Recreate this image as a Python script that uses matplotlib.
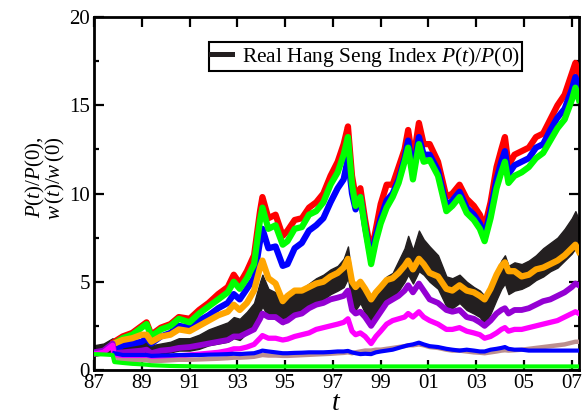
import numpy as np
import matplotlib
matplotlib.use("Agg")
import matplotlib.pyplot as plt

plt.rcParams['font.family'] = ['Liberation Serif', 'DejaVu Serif']
plt.rcParams['mathtext.fontset'] = 'custom'
plt.rcParams['mathtext.rm'] = 'Liberation Serif'
plt.rcParams['mathtext.it'] = 'Liberation Serif:italic'

nan = np.nan

# time in years (87 = 1987, 107 = 2007)
t = [87.0, 87.4, 87.78, 87.85, 88.2, 88.6, 89.0, 89.2, 89.4, 89.8,
     90.2, 90.55, 91.0, 91.4, 91.8, 92.2, 92.6, 92.85, 93.1, 93.4,
     93.7, 93.95, 94.05, 94.3, 94.6, 94.9, 95.1, 95.4, 95.7, 96.0,
     96.3, 96.6, 96.9, 97.2, 97.45, 97.63, 97.8, 97.95, 98.15, 98.35,
     98.6, 98.8, 99.0, 99.25, 99.5, 99.75, 100.0, 100.15, 100.35, 100.6,
     100.8, 101.05, 101.4, 101.75, 102.0, 102.3, 102.6, 102.9, 103.15, 103.35,
     103.6, 103.85, 104.05, 104.2, 104.35, 104.6, 104.9, 105.2, 105.5, 105.8,
     106.1, 106.4, 106.7, 107.0, 107.15, 107.3]

w_red = [nan, nan, nan, 1.6, 1.9, 2.1, 2.5, 2.7, 2.0, 2.4,
         2.6, 3.0, 2.9, 3.4, 3.8, 4.3, 4.7, 5.4, 4.9, 5.6,
         6.5, 9.0, 9.8, 8.6, 8.8, 7.6, 7.9, 8.5, 8.6, 9.2,
         9.5, 10.0, 11.0, 11.8, 12.8, 13.8, 11.0, 9.8, 10.3, 8.5,
         6.6, 8.0, 9.4, 10.5, 10.5, 11.5, 12.5, 13.6, 11.8, 14.0,
         12.8, 12.8, 11.8, 9.8, 10.0, 10.5, 9.7, 9.3, 8.8, 8.1,
         9.5, 11.5, 12.5, 13.2, 11.6, 12.2, 12.4, 12.6, 13.2, 13.4,
         14.2, 15.0, 15.6, 16.8, 17.4, 16.7]

w_blue = [nan, nan, nan, 1.1, 1.4, 1.5, 1.6, 1.8, 1.5, 1.9,
          2.1, 2.5, 2.4, 2.8, 3.1, 3.5, 3.8, 4.3, 4.0, 4.6,
          5.2, 7.3, 8.0, 6.9, 7.0, 5.9, 6.0, 6.9, 7.2, 7.9,
          8.2, 8.6, 9.5, 10.3, 10.8, 12.0, 10.0, 9.1, 9.8, 8.1,
          6.3, 7.6, 8.6, 9.6, 10.0, 10.8, 12.0, 13.0, 11.2, 13.2,
          12.2, 12.2, 11.3, 9.3, 9.6, 10.1, 9.2, 8.8, 8.3, 7.6,
          9.0, 10.8, 11.8, 12.4, 11.1, 11.6, 11.8, 12.0, 12.6, 12.8,
          13.6, 14.3, 14.8, 15.9, 16.6, 15.9]

w_green = [nan, nan, nan, 1.5, 1.8, 2.0, 2.4, 2.6, 1.9, 2.3,
           2.5, 2.9, 2.7, 3.2, 3.6, 4.0, 4.4, 5.0, 4.6, 5.2,
           6.0, 8.5, 9.2, 8.0, 8.2, 7.1, 7.3, 8.0, 8.1, 8.8,
           9.0, 9.5, 10.5, 11.2, 12.2, 13.2, 10.5, 9.3, 9.8, 8.0,
           6.0, 7.3, 8.3, 9.2, 9.8, 10.6, 11.8, 12.6, 10.8, 12.8,
           11.8, 11.9, 11.0, 9.0, 9.3, 9.8, 8.9, 8.5, 8.0, 7.3,
           8.6, 10.3, 11.2, 11.8, 10.6, 11.0, 11.2, 11.5, 12.0, 12.3,
           13.0, 13.7, 14.2, 15.3, 16.0, 15.3]

w_orange = [nan, nan, nan, 1.5, 1.7, 1.8, 2.0, 2.0, 1.6, 1.9,
            2.0, 2.3, 2.2, 2.5, 2.8, 3.1, 3.3, 3.7, 3.4, 3.8,
            4.5, 5.8, 6.2, 5.2, 4.9, 3.9, 4.2, 4.5, 4.5, 4.7,
            4.9, 5.0, 5.3, 5.5, 5.8, 6.3, 5.0, 4.7, 5.0, 4.6,
            4.0, 4.4, 4.7, 5.1, 5.2, 5.5, 5.9, 6.2, 5.7, 6.3,
            6.0, 5.5, 5.3, 4.6, 4.5, 4.8, 4.5, 4.4, 4.2, 4.0,
            4.6, 5.4, 5.9, 6.1, 5.6, 5.6, 5.3, 5.4, 5.7, 5.8,
            6.0, 6.2, 6.5, 6.9, 7.1, 6.7]

# real Hang Seng index, daily low / high envelope
hsi_lo = [0.8, 0.9, 1.1, 0.7, 0.9, 0.9, 1.0, 1.0, 0.7, 0.9,
          1.0, 1.1, 1.1, 1.2, 1.4, 1.5, 1.6, 1.8, 1.7, 2.1,
          2.4, 3.3, 3.6, 3.0, 2.9, 2.6, 2.9, 3.2, 3.3, 3.6,
          3.9, 4.0, 4.3, 4.5, 4.7, 5.2, 3.8, 3.4, 3.8, 3.2,
          2.5, 3.0, 3.4, 3.8, 4.0, 4.5, 5.0, 5.4, 4.9, 5.6,
          5.4, 5.0, 4.6, 3.6, 3.5, 3.8, 3.4, 3.2, 3.0, 2.6,
          3.2, 4.0, 4.6, 4.9, 4.3, 4.5, 4.6, 4.8, 5.1, 5.3,
          5.6, 5.8, 6.2, 6.6, 6.9, 6.5]
hsi_hi = [1.4, 1.5, 1.8, 1.3, 1.4, 1.5, 1.6, 1.7, 1.4, 1.5,
          1.6, 1.8, 1.8, 2.0, 2.3, 2.5, 2.7, 3.0, 2.9, 3.3,
          3.8, 5.0, 5.4, 4.6, 4.4, 3.7, 4.0, 4.5, 4.6, 4.9,
          5.2, 5.4, 5.7, 5.9, 6.3, 7.0, 5.2, 4.8, 5.0, 4.4,
          3.8, 4.3, 4.8, 5.3, 5.5, 6.2, 6.9, 7.6, 6.8, 7.9,
          7.4, 7.0, 6.5, 5.3, 5.2, 5.4, 5.0, 4.7, 4.5, 4.2,
          4.8, 5.6, 6.2, 6.5, 5.9, 6.1, 6.0, 6.2, 6.5, 6.9,
          7.2, 7.5, 8.0, 8.6, 9.0, 8.5]

w_purple = [1.0, 1.1, 1.5, 0.95, 1.0, 1.05, 1.1, 1.15, 0.95, 1.1,
            1.15, 1.25, 1.3, 1.4, 1.5, 1.6, 1.7, 1.9, 1.9, 2.1,
            2.3, 2.9, 3.2, 3.0, 3.0, 2.7, 2.8, 3.1, 3.2, 3.5,
            3.7, 3.8, 4.0, 4.1, 4.2, 4.5, 3.4, 3.2, 3.3, 3.0,
            2.5, 2.9, 3.3, 3.8, 4.0, 4.2, 4.5, 4.8, 4.4, 4.9,
            4.5, 4.0, 3.8, 3.4, 3.3, 3.4, 3.0, 2.9, 2.7, 2.5,
            2.8, 3.2, 3.4, 3.5, 3.2, 3.4, 3.4, 3.5, 3.7, 3.9,
            4.0, 4.2, 4.4, 4.7, 4.9, 4.8]

w_magenta = [0.9, 1.0, 1.4, 0.7, 0.7, 0.72, 0.75, 0.78, 0.6, 0.7,
             0.75, 0.8, 0.85, 0.9, 0.95, 1.0, 1.1, 1.2, 1.2, 1.3,
             1.45, 1.8, 1.95, 1.8, 1.8, 1.7, 1.75, 1.9, 2.0, 2.1,
             2.3, 2.4, 2.5, 2.6, 2.7, 2.9, 2.2, 2.0, 2.1, 1.9,
             1.5, 1.9, 2.2, 2.6, 2.8, 2.9, 3.0, 3.2, 3.0, 3.3,
             3.0, 2.8, 2.6, 2.3, 2.3, 2.4, 2.2, 2.1, 2.0, 1.8,
             1.9, 2.1, 2.3, 2.4, 2.2, 2.3, 2.3, 2.4, 2.5, 2.6,
             2.7, 2.8, 3.0, 3.2, 3.3, 3.2]

w_brown = [nan, nan, nan, 0.6, 0.55, 0.55, 0.55, 0.56, 0.5, 0.52,
           0.55, 0.58, 0.58, 0.6, 0.62, 0.64, 0.67, 0.7, 0.7, 0.72,
           0.75, 0.82, 0.85, 0.82, 0.82, 0.8, 0.8, 0.82, 0.84, 0.86,
           0.88, 0.9, 0.92, 0.95, 0.97, 1.0, 0.95, 1.0, 1.05, 1.1,
           1.1, 1.15, 1.15, 1.2, 1.25, 1.3, 1.35, 1.4, 1.4, 1.45,
           1.4, 1.3, 1.25, 1.15, 1.1, 1.1, 1.05, 1.0, 0.98, 0.95,
           1.0, 1.05, 1.1, 1.12, 1.1, 1.12, 1.15, 1.2, 1.25, 1.3,
           1.35, 1.4, 1.45, 1.55, 1.6, 1.6]

w_blue_low = [nan, nan, nan, 0.95, 0.85, 0.85, 0.85, 0.85, 0.8, 0.82,
              0.83, 0.85, 0.85, 0.85, 0.87, 0.88, 0.9, 0.92, 0.9, 0.93,
              0.95, 1.05, 1.1, 1.05, 1.0, 0.95, 0.95, 0.97, 0.98, 1.0,
              1.0, 1.0, 1.02, 1.05, 1.05, 1.08, 1.0, 0.95, 0.9, 0.92,
              0.9, 1.0, 1.05, 1.1, 1.15, 1.25, 1.35, 1.4, 1.45, 1.55,
              1.45, 1.35, 1.3, 1.2, 1.15, 1.1, 1.15, 1.1, 1.05, 1.05,
              1.15, 1.2, 1.25, 1.3, 1.2, 1.15, 1.15, 1.1, 1.1, 1.1,
              1.1, 1.1, 1.1, 1.1, 1.1, 1.1]

w_green_low = [0.9, 0.88, 0.85, 0.45, 0.4, 0.35, 0.32, 0.3, 0.27, 0.25,
               0.23, 0.22, 0.21, 0.2, 0.2, 0.2, 0.2, 0.2, 0.2, 0.2,
               0.2, 0.2, 0.2, 0.2, 0.2, 0.2, 0.2, 0.2, 0.2, 0.2,
               0.2, 0.2, 0.2, 0.2, 0.2, 0.2, 0.2, 0.2, 0.2, 0.2,
               0.2, 0.2, 0.2, 0.2, 0.2, 0.2, 0.2, 0.2, 0.2, 0.2,
               0.2, 0.2, 0.2, 0.2, 0.2, 0.2, 0.2, 0.2, 0.2, 0.2,
               0.2, 0.2, 0.2, 0.2, 0.2, 0.2, 0.2, 0.2, 0.2, 0.2,
               0.2, 0.2, 0.2, 0.2, 0.2, 0.2]

x_ticks = [87, 89, 91, 93, 95, 97, 99, 101, 103, 105, 107]
x_labels = ['87', '89', '91', '93', '95', '97', '99', '01', '03', '05', '07']
y_ticks = [0, 5, 10, 15, 20]


fig = plt.figure(figsize=(5.82, 4.16), dpi=100)
ax = fig.add_axes([0.1615, 0.1106, 0.8333, 0.8484])

ax.fill_between(t, hsi_lo, hsi_hi, color='#231f20', lw=1.0, zorder=2)
ax.plot(t, w_red, color='#ff0000', lw=4.5, zorder=3)
ax.plot(t, w_blue, color='#0000ff', lw=4.5, zorder=3)
ax.plot(t, w_green, color='#00ff00', lw=4.5, zorder=3)
ax.plot(t, w_orange, color='#ffa500', lw=4.5, zorder=4)
ax.plot(t, w_purple, color='#9400d3', lw=4.2, zorder=4)
ax.plot(t, w_magenta, color='#ff00ff', lw=3.8, zorder=4)
ax.plot(t, w_brown, color='#bc8f8f', lw=3.2, zorder=4)
ax.plot(t, w_blue_low, color='#0000ff', lw=3.0, zorder=4)
ax.plot(t, w_green_low, color='#00ff00', lw=3.0, zorder=4)

# legend only for the index itself
ax.plot([], [], color='#231f20', lw=3.6, label=r'Real Hang Seng Index $P(t)/P(0)$')
leg = ax.legend(loc='upper right', bbox_to_anchor=(0.883, 0.929), borderaxespad=0,
                fontsize=15.5, handlelength=0.95, handletextpad=0.45,
                borderpad=0.12, fancybox=False, framealpha=1)
leg.get_frame().set_edgecolor('black')
leg.get_frame().set_linewidth(1.5)

ax.set_xlim(87, 107.3)
ax.set_ylim(0, 20)
ax.set_xticks(x_ticks)
ax.set_xticklabels(x_labels)
ax.set_yticks(y_ticks)
ax.set_yticks([2.5, 7.5, 12.5, 17.5], minor=True)
ax.tick_params(which='both', direction='in', top=True, right=True,
               labelsize=15, width=1.6, pad=3)
ax.tick_params(which='major', length=7)
ax.tick_params(which='minor', length=3.5)
for s in ax.spines.values():
    s.set_linewidth(2)

ax.set_xlabel(r'$t$', fontsize=20, labelpad=-1.5)
ax.set_ylabel('$P(t)/P(0)$,\n$w\\,(t)/w\\,(0)$', fontsize=15, linespacing=0.78)
ax.yaxis.set_label_coords(-0.056, 0.545)

plt.savefig('out.png', dpi=100)
